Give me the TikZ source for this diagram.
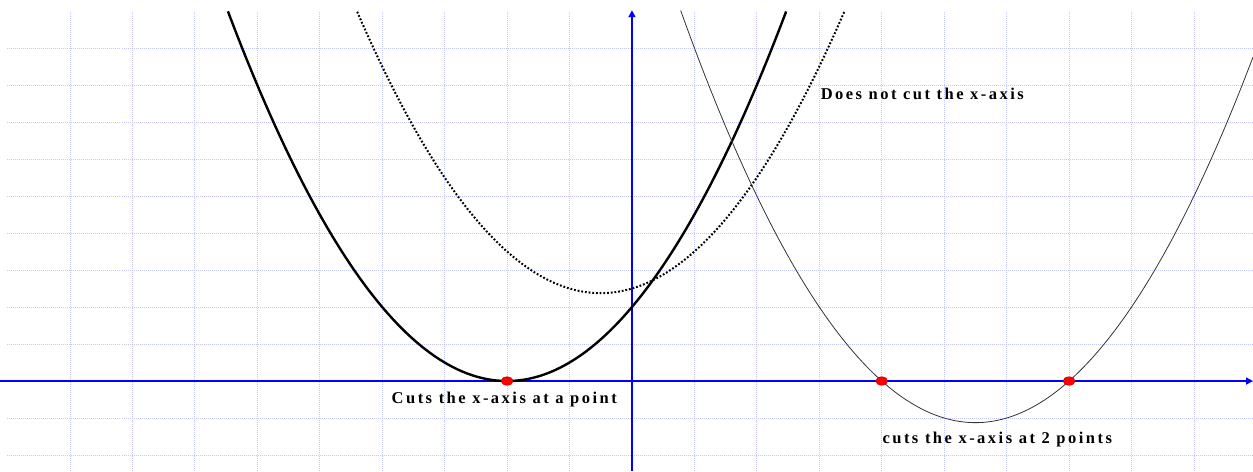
\documentclass[tikz,border=0pt]{standalone}
\usepackage{fontspec}
\setmainfont{Liberation Serif}
\newfontfamily\lblfont[LetterSpace=15]{Liberation Serif}
\usetikzlibrary{arrows.meta, shapes.geometric}

\begin{document}
\begin{tikzpicture}[x=62.44pt, y=37pt,
    gridline/.style={draw=blue!22, line width=0.8pt, dash pattern=on 1pt off 1pt},
    axis/.style={draw=blue, line width=1.6pt, -{Triangle[length=7pt, width=7pt]}},
    root/.style={ellipse, fill=red, draw=red!70!black, minimum width=12pt, minimum height=8.5pt, inner sep=0pt},
    lbl/.style={font=\lblfont\bfseries\fontsize{16.5}{19}\selectfont, anchor=base west, inner sep=0pt}]
        \useasboundingbox (-10.12,-2.432) rectangle (9.945,10.297);
%   grid
        \foreach \i in {-9,...,9}
            \draw[gridline] (\i,-2.432) -- (\i,10);
        \foreach \j in {-2,...,9}
            \draw[gridline] (-10,\j) -- (9.945,\j);
%   axes
        \coordinate (xl) at (-10.12,0);
        \coordinate (xr) at (9.945,0);
        \coordinate (yb) at (0,-2.432);
        \coordinate (yt) at (0,10.02);
        \draw[axis] (xl) -- (xr);
        \draw[axis] (yb) -- (yt);
%   the three parabolas
        \draw[line width=2.4pt, domain=-6.47:2.47, samples=120] plot (\x, {0.5*(\x+2)^2});
        \draw[line width=2pt, dash pattern=on 1.8pt off 1.9pt, domain=-4.4:3.4, samples=120] plot (\x, {0.5*\x*\x+0.5*\x+2.5});
        \draw[line width=0.8pt, black!80, domain=0.78:9.945, samples=120] plot (\x, {0.5*(\x-4)*(\x-7)});
%   roots
        \node[root] (r1) at (-2,0) {};
        \node[root] (r2) at (4,0) {};
        \node[root] (r3) at (7,0) {};
%   labels
        \node[lbl] (none) at (3.02,7.62) {Does not cut the x-axis};
        \node[lbl] (one) at (-3.85,-0.603) {Cuts the x-axis at a point};
        \node[lbl] (two) at (4.01,-1.70) {cuts the x-axis at 2 points};
\end{tikzpicture}
\end{document}
